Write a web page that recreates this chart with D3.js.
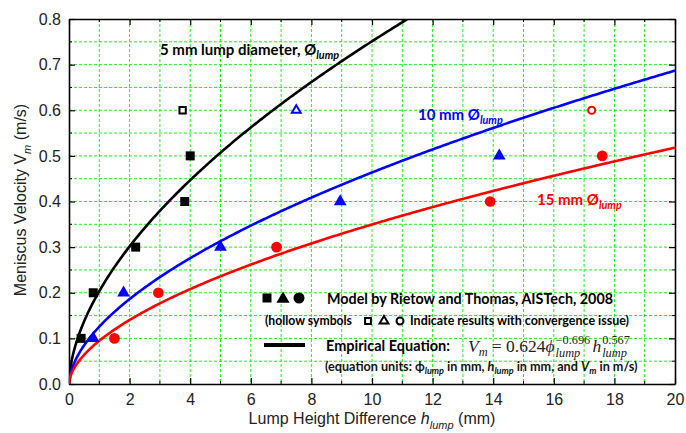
<!DOCTYPE html>
<html><head><meta charset="utf-8">
<script src="https://cdn.jsdelivr.net/npm/d3@7"></script>
<style>body{margin:0;background:#fff}svg{display:block}</style>
</head><body>
<svg id="c" width="686" height="433"></svg>
<script>
// ---- data ----
const xTicks = [0,2,4,6,8,10,12,14,16,18,20];
const yTicks = [0.0,0.1,0.2,0.3,0.4,0.5,0.6,0.7,0.8];
const lumpDiameters = [5,10,15];
const seriesColors = ["#000000","#0000ff","#ff0000"];
const eqCoef = 0.624, eqPhiExp = -0.696, eqHExp = 0.567;
// model results (filled)
const sqH = [0.4,0.8,2.2,3.82,4.0];   const sqV = [0.1,0.2,0.3,0.4,0.5];
const triH = [0.8,1.8,5.0,8.95,14.2]; const triV = [0.1,0.2,0.3,0.4,0.5];
const cirH = [1.5,2.95,6.85,13.9,17.6]; const cirV = [0.1,0.2,0.3,0.4,0.5];
// hollow (convergence issue)
const hSqH = [3.75]; const hSqV = [0.6];
const hTriH = [7.5]; const hTriV = [0.6];
const hCirH = [17.25]; const hCirV = [0.6];

const svg = d3.select("#c");
const L=69, R=675, T=19, B=384;
const x = d3.scaleLinear().domain([0,20]).range([L,R]);
const y = d3.scaleLinear().domain([0,0.8]).range([B,T]);
const grid = "#22ee22";

// grid
const g = svg.append("g");
d3.range(1,20).forEach(v=>g.append("line").attr("x1",x(v)).attr("x2",x(v)).attr("y1",T).attr("y2",B)
  .attr("stroke",grid).attr("stroke-width",1).attr("stroke-dasharray","3,2"));
d3.range(1,16).forEach(i=>{const v=i*0.05; g.append("line").attr("y1",y(v)).attr("y2",y(v)).attr("x1",L).attr("x2",R)
  .attr("stroke",grid).attr("stroke-width",1).attr("stroke-dasharray","3,2");});

// axes
const axFont = "Liberation Sans, Arial, sans-serif";
const bx = svg.append("g").attr("transform",`translate(0,${B})`)
  .call(d3.axisBottom(x).tickValues(xTicks).tickFormat(d3.format("d")).tickSizeInner(-6).tickSizeOuter(0).tickPadding(10));
const by = svg.append("g").attr("transform",`translate(${L},0)`)
  .call(d3.axisLeft(y).tickValues(yTicks).tickFormat(d3.format(".1f")).tickSizeInner(-6).tickSizeOuter(0).tickPadding(8));
const tx = svg.append("g").attr("transform",`translate(0,${T})`)
  .call(d3.axisTop(x).tickValues(xTicks).tickFormat("").tickSizeInner(-6).tickSizeOuter(0));
const ry = svg.append("g").attr("transform",`translate(${R},0)`)
  .call(d3.axisRight(y).tickValues(yTicks).tickFormat("").tickSizeInner(-6).tickSizeOuter(0));
[bx,by,tx,ry].forEach(a=>{a.select(".domain").attr("stroke","#000").attr("stroke-width",1.6);
  a.selectAll(".tick line").attr("stroke","#000").attr("stroke-width",1.2);
  a.selectAll("text").attr("font-family",axFont).attr("font-size",16).attr("fill","#222");});
// minor ticks
const minorX = d3.range(1,20,2), minorY = d3.range(1,16,2).map(i=>i*0.05);
minorX.forEach(v=>{svg.append("line").attr("x1",x(v)).attr("x2",x(v)).attr("y1",B).attr("y2",B-3).attr("stroke","#000");
  svg.append("line").attr("x1",x(v)).attr("x2",x(v)).attr("y1",T).attr("y2",T+3).attr("stroke","#000");});
minorY.forEach(v=>{svg.append("line").attr("y1",y(v)).attr("y2",y(v)).attr("x1",L).attr("x2",L+3).attr("stroke","#000");
  svg.append("line").attr("y1",y(v)).attr("y2",y(v)).attr("x1",R).attr("x2",R-3).attr("stroke","#000");});

// clip
svg.append("clipPath").attr("id","pc").append("rect").attr("x",L).attr("y",T).attr("width",R-L).attr("height",B-T);

// curves (from the chart's stated empirical equation)
const hs = d3.range(0,20.001,0.05);
const line = d3.line().x(d=>x(d[0])).y(d=>y(d[1]));
lumpDiameters.forEach((phi,i)=>{
  const pts = hs.map(h=>[h, eqCoef*Math.pow(phi,eqPhiExp)*Math.pow(h,eqHExp)]);
  svg.append("path").attr("d",line(pts)).attr("fill","none").attr("stroke",seriesColors[i])
    .attr("stroke-width",2.6).attr("clip-path","url(#pc)");
});

// markers
const sq = d3.symbol().type(d3.symbolSquare);
const tri = d3.symbol().type(d3.symbolTriangle);
const cir = d3.symbol().type(d3.symbolCircle);
function pts(H,V,sym,size,color,hollow){
  H.forEach((h,i)=>{
    svg.append("path").attr("d",sym.size(size)()).attr("transform",`translate(${x(h)},${y(V[i])})`)
      .attr("fill",hollow?"#fff":color).attr("stroke",color).attr("stroke-width",hollow?2:0);
  });
}
pts(sqH,sqV,sq,81,"#000",false);
pts(triH,triV,tri,70,"#0000ff",false);
pts(cirH,cirV,cir,90,"#ff0000",false);
pts(hSqH,hSqV,sq,40,"#000",true);
pts(hTriH,hTriV,tri,34,"#0000ff",true);
pts(hCirH,hCirV,cir,40,"#ff0000",true);

// annotations
const bf = "Lato, 'Open Sans', sans-serif";
function label(xp,yp,main,color,size){
  const t = svg.append("text").attr("x",xp).attr("y",yp).attr("font-family",bf).attr("font-weight","bold")
    .attr("font-size",size).attr("fill",color);
  t.append("tspan").text(main);
  t.append("tspan").attr("font-style","italic").attr("font-size",size*0.72).attr("dy",4).text("lump");
}
label(160,55,"5 mm lump diameter, Ø","#000",15);
label(418,120,"10 mm Ø","#0000ff",15);
label(537,205,"15 mm Ø","#ff0000",15);

// legend
const lg = svg.append("g");
lg.append("path").attr("d",sq.size(81)()).attr("transform","translate(267,298)").attr("fill","#000");
lg.append("path").attr("d",tri.size(75)()).attr("transform","translate(283,299)").attr("fill","#000");
lg.append("path").attr("d",cir.size(95)()).attr("transform","translate(299,298)").attr("fill","#000");
lg.append("text").attr("x",327).attr("y",304).attr("font-family",bf).attr("font-weight","bold").attr("font-size",15)
  .attr("textLength",286).attr("lengthAdjust","spacingAndGlyphs").text("Model by Rietow and Thomas, AISTech, 2008");
lg.append("text").attr("x",265).attr("y",325).attr("font-family",bf).attr("font-weight","bold").attr("font-size",12.5)
  .attr("textLength",87).attr("lengthAdjust","spacingAndGlyphs").text("(hollow symbols");
lg.append("path").attr("d",sq.size(34)()).attr("transform","translate(368,321)").attr("fill","#fff").attr("stroke","#000").attr("stroke-width",2);
lg.append("path").attr("d",tri.size(34)()).attr("transform","translate(384,321)").attr("fill","#fff").attr("stroke","#000").attr("stroke-width",2);
lg.append("path").attr("d",cir.size(38)()).attr("transform","translate(400,321)").attr("fill","#fff").attr("stroke","#000").attr("stroke-width",2);
lg.append("text").attr("x",410).attr("y",325).attr("font-family",bf).attr("font-weight","bold").attr("font-size",12.5)
  .attr("textLength",219).attr("lengthAdjust","spacingAndGlyphs").text("Indicate results with convergence issue)");
lg.append("line").attr("x1",264).attr("x2",305).attr("y1",345).attr("y2",345).attr("stroke","#000").attr("stroke-width",4);
lg.append("text").attr("x",326).attr("y",351).attr("font-family",bf).attr("font-weight","bold").attr("font-size",15)
  .attr("textLength",124).attr("lengthAdjust","spacingAndGlyphs").text("Empirical Equation:");

// equation, laid out piece by piece then fitted to 468..630
const sf = "'Liberation Serif', 'DejaVu Serif', serif";
const eqG = lg.append("g");
let cx = 0;
function piece(txt,size,italic,dy,advance){
  const t = eqG.append("text").attr("x",cx).attr("y",dy).attr("font-family",sf).attr("font-size",size)
    .attr("font-style",italic?"italic":"normal").attr("fill","#222").text(txt);
  const w = t.node().getComputedTextLength();
  if(advance) cx += w;
  return w;
}
piece("V",17,true,0,true);
piece("m",12,true,4,true);
cx += 4;
piece("= 0.624",17,false,0,true);
piece("ϕ",17,true,0,true);
cx += 1;
const w1 = piece("−0.696",12,false,-8,false);
const w2 = piece("lump",12,true,5,false);
cx += Math.max(w1,w2) + 2;
piece("h",17,true,0,true);
cx += 1;
const w3 = piece("0.567",12,false,-8,false);
const w4 = piece("lump",12,true,5,false);
cx += Math.max(w3,w4);
const eqScale = 162/cx;
eqG.attr("transform",`translate(468,352) scale(${eqScale},1)`);

// units line
const u = lg.append("text").attr("x",0).attr("y",0).attr("font-family",bf).attr("font-weight","bold").attr("font-size",12.5).attr("fill","#111");
u.append("tspan").text("(equation units: ϕ");
u.append("tspan").attr("font-style","italic").attr("font-size",9).attr("dy",3).text("lump");
u.append("tspan").attr("dy",-3).text(" in mm, ");
u.append("tspan").attr("font-style","italic").text("h");
u.append("tspan").attr("font-style","italic").attr("font-size",9).attr("dy",3).text("lump");
u.append("tspan").attr("dy",-3).text(" in mm, and ");
u.append("tspan").attr("font-style","italic").text("V");
u.append("tspan").attr("font-style","italic").attr("font-size",9).attr("dy",3).text("m");
u.append("tspan").attr("dy",-3).text(" in m/s)");
const uw = u.node().getComputedTextLength();
u.attr("transform",`translate(325,371) scale(${313/uw},1)`);

// axis titles
const xt = svg.append("text").attr("x",372).attr("y",424).attr("text-anchor","middle").attr("font-family",axFont).attr("font-size",16).attr("fill","#222");
xt.append("tspan").text("Lump Height Difference ");
xt.append("tspan").attr("font-style","italic").text("h");
xt.append("tspan").attr("font-style","italic").attr("font-size",11).attr("dy",5).text("lump");
xt.append("tspan").attr("dy",-5).text(" (mm)");
const yt = svg.append("text").attr("transform","translate(26,200) rotate(-90)").attr("text-anchor","middle").attr("font-family",axFont).attr("font-size",16).attr("fill","#222");
yt.append("tspan").text("Meniscus Velocity V");
yt.append("tspan").attr("font-style","italic").attr("font-size",11).attr("dy",5).text("m");
yt.append("tspan").attr("dy",-5).text(" (m/s)");
</script>
</body></html>
